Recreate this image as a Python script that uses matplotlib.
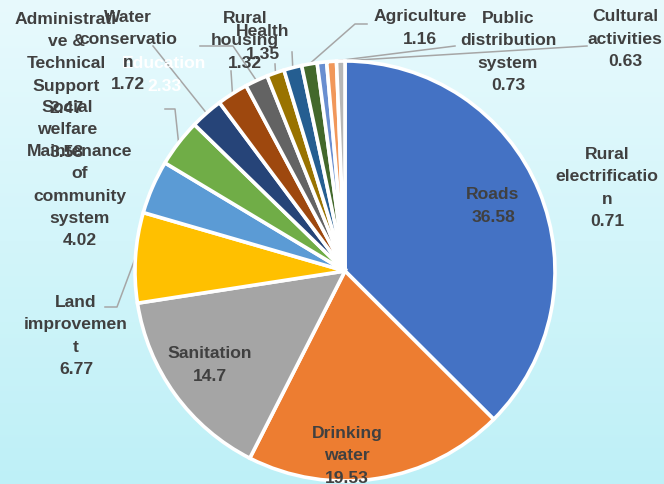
import numpy as np
import matplotlib
matplotlib.use("Agg")
import matplotlib.pyplot as plt
from matplotlib.colors import LinearSegmentedColormap

# ---- data ----
categories = ["Roads", "Drinking water", "Sanitation", "Land improvement",
              "Maintenance of community system", "Social welfare",
              "Administrative & Technical Support", "Education",
              "Water conservation", "Rural housing", "Health", "Agriculture",
              "Rural electrification", "Public distribution system",
              "Cultural activities"]
values = [36.58, 19.53, 14.7, 6.77, 4.02, 3.58, 2.47, 2.33, 1.72, 1.32, 1.35,
          1.16, 0.71, 0.73, 0.63]
label_names = ["Roads", "Drinking\nwater", "Sanitation", "Land\nimprovemen\nt",
               "Maintenance\nof\ncommunity\nsystem", "Social\nwelfare",
               "Administrati\nve &\nTechnical\nSupport", "Education",
               "Water\nconservatio\nn", "Rural\nhousing", "Health",
               "Agriculture", "Rural\nelectrificatio\nn",
               "Public\ndistribution\nsystem", "Cultural\nactivities"]
colors = ["#4472C4", "#ED7D31", "#A5A5A5", "#FFC000", "#5B9BD5", "#70AD47",
          "#264478", "#9E480E", "#636363", "#997300", "#255E91", "#43682B",
          "#698ED0", "#F1975A", "#B7B7B7"]

W, H = 664, 485
def P(x, y):
    return (x, H - y)

fig = plt.figure(figsize=(W / 100, H / 100), dpi=100)
ax = fig.add_axes([0, 0, 1, 1])

# background gradient
grad = np.linspace(0, 1, 256).reshape(-1, 1)
cmap = LinearSegmentedColormap.from_list("bg", ["#E8FAFD", "#BEF0F7"])
ax.imshow(grad, extent=(0, W, 0, H), origin="upper", cmap=cmap,
          aspect="auto", zorder=0)

cx, cy = P(345, 272)
R = 210
wedges, _ = ax.pie(values, colors=colors, startangle=90, counterclock=False,
                   center=(cx, cy), radius=R,
                   wedgeprops=dict(edgecolor="white", linewidth=2.6))
for w in wedges:
    w.set_zorder(2)

ax.set_xlim(0, W)
ax.set_ylim(0, H)
ax.set_aspect("auto")
ax.axis("off")

def mid_point(i):
    w = wedges[i]
    a = np.deg2rad((w.theta1 + w.theta2) / 2)
    return (cx + R * np.cos(a), cy + R * np.sin(a))

# label centers (image pixel coords)
label_pos = {
    0: (493, 206), 1: (347, 456), 2: (210, 365), 3: (76, 336),
    4: (80, 196), 5: (67, 130), 6: (66, 64), 7: (164, 75),
    8: (128, 51), 9: (245, 41), 10: (263, 43), 11: (420, 28),
    12: (607, 188), 13: (508, 52), 14: (625, 39),
}
txtc = "#404040"
for i, (x, y) in label_pos.items():
    s = f"{label_names[i]}\n{values[i]:g}"
    col = "white" if i == 7 else txtc
    ax.text(*P(x, y), s, ha="center", va="center", multialignment="center",
            fontsize=12.6, fontweight="bold", family="Liberation Sans",
            color=col, linespacing=1.6, zorder=5)

# leader lines: anchor points (image coords) -> slice mid
leaders = {
    3: [(105, 308), (117, 308)],
    5: [(165, 110), (175, 110)],
    6: [(153, 47)],
    8: [(200, 47), (233, 47)],
    7: [(231, 72)],
    9: [(275, 65)],
    10: [(292, 53)],
    11: [(367, 25), (355, 25)],
    13: [(455, 47)],
    14: [(587, 47)],
}
for i, pts in leaders.items():
    xs = [P(*p)[0] for p in pts]
    ys = [P(*p)[1] for p in pts]
    mx, my = mid_point(i)
    xs.append(mx)
    ys.append(my)
    ax.plot(xs, ys, color="#A6A6A6", lw=1.1, zorder=1.5)

fig.savefig("out.png", dpi=100)
